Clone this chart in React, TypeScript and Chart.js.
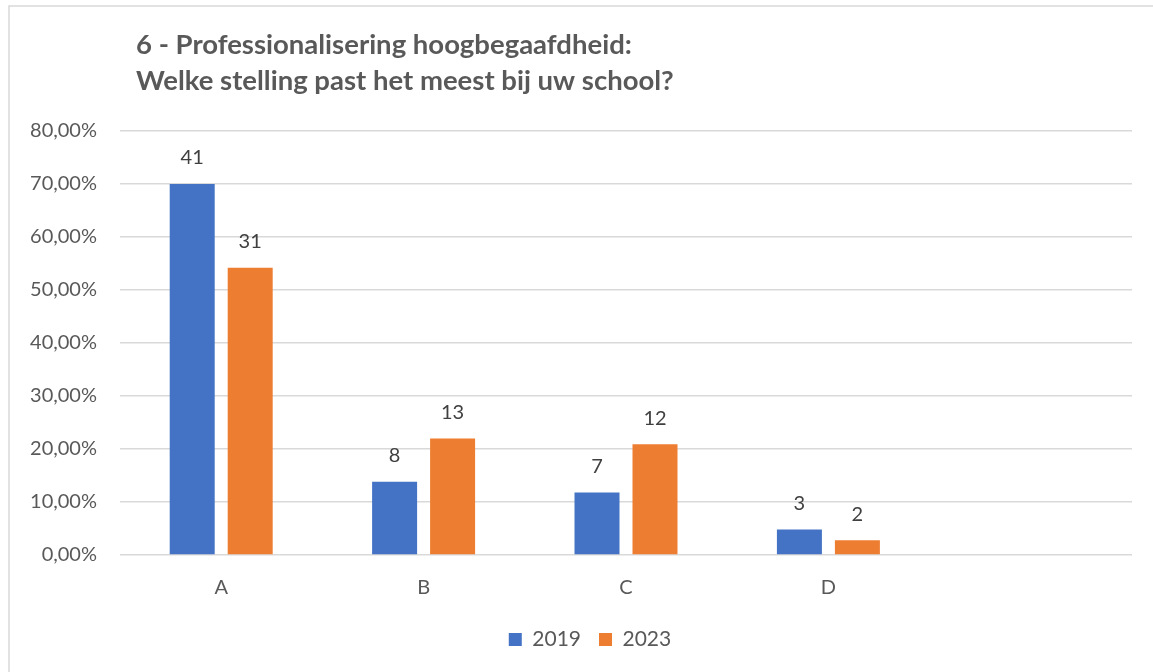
import React, { useEffect, useRef } from "react";
import { Chart, registerables } from "chart.js";

Chart.register(...registerables);

const titleLines = [
  "6 - Professionalisering hoogbegaafdheid:",
  "Welke stelling past het meest bij uw school?",
];
const categories = ["A", "B", "C", "D", ""];
const seriesNames = ["2019", "2023"];
const values2019 = [70, 13.8, 11.8, 4.8, null];
const values2023 = [54.2, 22.0, 20.9, 2.8, null];
const counts2019 = ["41", "8", "7", "3", ""];
const counts2023 = ["31", "13", "12", "2", ""];
const yTicks = [0, 10, 20, 30, 40, 50, 60, 70, 80];

const FONT = "Lato, 'Open Sans', sans-serif";
const TEXT = "#595959";

const framePlugin = {
  id: "frame",
  afterLayout(chart: any) {
    const lg = chart.legend;
    if (lg) {
      lg.left += 19;
      lg.right += 19;
    }
  },
  beforeDraw(chart: any) {
    const ctx = chart.ctx;
    ctx.save();
    ctx.fillStyle = "#ffffff";
    ctx.fillRect(0, 0, chart.width, chart.height);
    ctx.strokeStyle = "#d9d9d9";
    ctx.lineWidth = 1.5;
    ctx.beginPath();
    ctx.moveTo(9, chart.height);
    ctx.lineTo(9, 6);
    ctx.lineTo(chart.width, 6);
    ctx.stroke();
    ctx.restore();
  },
  afterDraw(chart: any) {
    const ctx = chart.ctx;
    ctx.save();
    ctx.fillStyle = TEXT;
    ctx.font = `bold 27.5px ${FONT}`;
    ctx.textAlign = "left";
    ctx.textBaseline = "alphabetic";
    ctx.fillText(titleLines[0], 136, 54);
    ctx.fillText(titleLines[1], 136, 90);
    ctx.restore();
  },
};

const labelPlugin = {
  id: "barLabels",
  afterDatasetsDraw(chart: any) {
    const ctx = chart.ctx;
    const all = [counts2019, counts2023];
    ctx.save();
    ctx.fillStyle = "#404040";
    ctx.font = `20px ${FONT}`;
    ctx.textAlign = "center";
    ctx.textBaseline = "middle";
    all.forEach((labels, di) => {
      const meta = chart.getDatasetMeta(di);
      meta.data.forEach((bar: any, i: number) => {
        if (!labels[i]) return;
        ctx.fillText(labels[i], bar.x, bar.y - 26);
      });
    });
    ctx.restore();
  },
};

export default function App() {
  const ref = useRef<HTMLCanvasElement>(null);
  useEffect(() => {
    document.body.style.margin = "0";
    document.body.style.overflow = "hidden";
    const chart = new Chart(ref.current!, {
      type: "bar",
      data: {
        labels: categories,
        datasets: [
          {
            label: seriesNames[0],
            data: values2019,
            backgroundColor: "#4472C4",
            barPercentage: 0.776,
            categoryPercentage: 0.573,
          },
          {
            label: seriesNames[1],
            data: values2023,
            backgroundColor: "#ED7D31",
            barPercentage: 0.776,
            categoryPercentage: 0.573,
          },
        ],
      },
      options: {
        responsive: false,
        animation: false,
        devicePixelRatio: 1,
        layout: { padding: { top: 131, left: 10, right: 21, bottom: 12 } },
        plugins: {
          title: { display: false },
          tooltip: { enabled: false },
          legend: {
            position: "bottom",
            labels: {
              boxWidth: 13,
              boxHeight: 13,
              padding: 18,
              color: TEXT,
              font: { family: FONT, size: 21 },
            },
          },
        },
        scales: {
          x: {
            grid: { display: false },
            border: { display: false },
            ticks: {
              color: TEXT,
              font: { family: FONT, size: 20 },
              padding: 13,
            },
            afterFit(scale: any) {
              scale.height = 56;
            },
          },
          y: {
            min: 0,
            max: 80,
            afterBuildTicks(scale: any) {
              scale.ticks = yTicks.map((v) => ({ value: v }));
            },
            grid: { color: "#d9d9d9", lineWidth: 1.5, drawTicks: false },
            border: { display: false },
            ticks: {
              color: TEXT,
              font: { family: FONT, size: 20 },
              padding: 23,
              callback: (v: any) => Number(v).toFixed(2).replace(".", ",") + "%",
            },
            afterFit(scale: any) {
              scale.width = 110;
            },
          },
        },
      },
      plugins: [framePlugin, labelPlugin],
    });
    return () => chart.destroy();
  }, []);
  return (
    <div style={{ position: "fixed", left: 0, top: 0, width: 1153, height: 672 }}>
      <canvas ref={ref} width={1153} height={672} />
    </div>
  );
}
